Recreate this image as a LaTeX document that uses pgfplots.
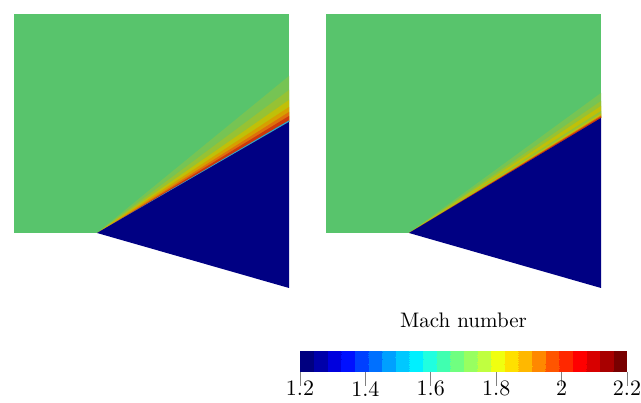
\documentclass[border=0pt]{standalone}
\usepackage{fontspec}
\newfontfamily\lmten{lmroman10-regular}[Extension=.otf]
\usepackage{pgfplots}
\pgfplotsset{compat=1.18}
\definecolor{field}{RGB}{88,196,108}
\definecolor{wedge}{RGB}{0,0,131}
\definecolor{bA}{RGB}{118,196,84}
\definecolor{bB}{RGB}{150,194,52}
\definecolor{bC}{RGB}{192,192,8}
\definecolor{bD}{RGB}{214,160,0}
\definecolor{bE}{RGB}{222,112,12}
\definecolor{bF}{RGB}{205,56,12}
\definecolor{bG}{RGB}{40,170,210}
\begin{document}
\begin{tikzpicture}
\useasboundingbox (0,0) rectangle (641pt,403pt);
\begin{axis}[
  scale only axis, width=641pt, height=403pt,
  xmin=0, xmax=641, ymin=0, ymax=403,
  hide axis, clip=false,
  colormap={mach}{rgb255(0)=(0,0,128) rgb255(1)=(0,0,170) rgb255(2)=(0,0,222) rgb255(3)=(0,16,255)
    rgb255(4)=(0,64,255) rgb255(5)=(0,112,255) rgb255(6)=(0,160,255) rgb255(7)=(0,200,255)
    rgb255(8)=(0,240,255) rgb255(9)=(32,255,224) rgb255(10)=(64,255,176) rgb255(11)=(112,255,128)
    rgb255(12)=(152,255,96) rgb255(13)=(192,255,64) rgb255(14)=(240,255,16) rgb255(15)=(255,224,0)
    rgb255(16)=(255,184,0) rgb255(17)=(255,136,0) rgb255(18)=(255,85,0) rgb255(19)=(255,40,0)
    rgb255(20)=(255,0,0) rgb255(21)=(216,0,0) rgb255(22)=(168,0,0) rgb255(23)=(120,0,0)
    rgb255(24)=(120,0,0)},
  colormap access=piecewise constant,
  point meta min=1.2, point meta max=2.2,
  colorbar horizontal,
  colorbar style={
    at={(300pt,40pt)}, anchor=south west,
    scale only axis, width=327pt, height=21pt,
    xmin=1.2, xmax=2.2,
    xtick={1.2,1.4,1.6,1.8,2,2.2},
    /pgf/number format/assume math mode=true,
    xticklabel style={font=\lmten\fontsize{22}{24}\selectfont, inner ysep=0.5pt, text depth=0pt, anchor=north, yshift=5pt},
    xtick pos=lower, xticklabel pos=lower,
    major tick length=14pt,
    tick align=outside,
    xtick style={draw=gray, line width=0.8pt},
    axis line style={draw=none},
    ytick=\empty,
    title={\lmten\fontsize{21}{24}\selectfont Mach number},
    title style={yshift=13pt},
  },
]
% ---------- left panel ----------
\addplot[fill=field, draw=none] coordinates {(14,389) (289,389) (289,170) (14,170)} -- cycle;
\addplot[fill=bA, draw=none] coordinates {(97,170) (289,327) (289,281)} -- cycle;
\addplot[fill=bB, draw=none] coordinates {(97,170) (289,313) (289,281)} -- cycle;
\addplot[fill=bC, draw=none] coordinates {(97,170) (289,303) (289,281)} -- cycle;
\addplot[fill=bD, draw=none] coordinates {(97,170) (289,296) (289,281)} -- cycle;
\addplot[fill=bE, draw=none] coordinates {(98,170) (289,291) (289,281)} -- cycle;
\addplot[fill=bF, draw=none] coordinates {(98,170) (289,287) (289,281)} -- cycle;
\addplot[fill=bG, draw=none] coordinates {(97,170) (289,282.6) (289,281)} -- cycle;
\addplot[fill=wedge, draw=none] coordinates {(97,170) (289,281) (289,115)} -- cycle;
% ---------- right panel ----------
\addplot[fill=field, draw=none] coordinates {(326,389) (601,389) (601,170) (326,170)} -- cycle;
\addplot[fill=bA, draw=none] coordinates {(409,170) (601,310) (601,285)} -- cycle;
\addplot[fill=bB, draw=none] coordinates {(409,170) (601,302) (601,285)} -- cycle;
\addplot[fill=bC, draw=none] coordinates {(409,170) (601,297) (601,285)} -- cycle;
\addplot[fill=bB, draw=none] coordinates {(409,170) (601,292) (601,285)} -- cycle;
\addplot[fill=bC, draw=none] coordinates {(409,170) (601,289.5) (601,285)} -- cycle;
\addplot[fill=bE, draw=none] coordinates {(409,170) (601,287.5) (601,285)} -- cycle;
\addplot[fill=bF, draw=none] coordinates {(409,170) (601,286.5) (601,285)} -- cycle;
\addplot[fill=wedge, draw=none] coordinates {(409,170) (601,285) (601,115)} -- cycle;
\end{axis}
\end{tikzpicture}
\end{document}
